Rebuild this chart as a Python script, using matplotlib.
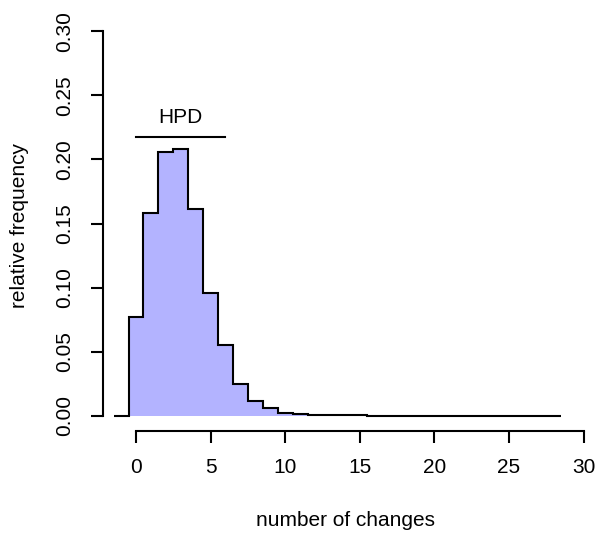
import numpy as np
import matplotlib
matplotlib.use("Agg")
import matplotlib.pyplot as plt

plt.rcParams['font.family'] = ['Liberation Sans', 'DejaVu Sans']

# number of changes (bin centres) and relative frequencies
changes = list(range(-1, 29))
freq = [0.0, 0.0772, 0.158, 0.206, 0.208, 0.161, 0.0955, 0.055, 0.0244, 0.0111,
        0.0063, 0.0022, 0.0012, 0.0008, 0.0005, 0.0004, 0.0003] + [0.0] * 13
hpd_low, hpd_high = 0, 6
hpd_y = 0.2178
xticks = [0, 5, 10, 15, 20, 25, 30]
yticks = [0.00, 0.05, 0.10, 0.15, 0.20, 0.25, 0.30]

W, H = 599, 533
fs = 15
fig = plt.figure(figsize=(W / 100, H / 100), dpi=100)
ax = fig.add_axes([103 / W, (H - 431) / H, (598 - 103) / W, (431 - 16) / H])

edges = np.array(changes + [changes[-1] + 1]) - 0.5
vals = np.array(freq)
ax.stairs(vals, edges, fill=True, color='#B3B3FF', linewidth=0)
ax.stairs(vals, edges, baseline=None, color='black', linewidth=1.5)

ax.plot([hpd_low, hpd_high], [hpd_y, hpd_y], color='black', linewidth=1.5)
ax.text((hpd_low + hpd_high) / 2, 0.233, 'HPD', ha='center', va='center', fontsize=fs)

ax.set_xlim(-2.21, 30.97)
ax.set_ylim(-0.012, 0.312)
for s in ['top', 'right']:
    ax.spines[s].set_visible(False)
ax.spines['left'].set_bounds(0, 0.3)
ax.spines['bottom'].set_bounds(0, 30)
for s in ['left', 'bottom']:
    ax.spines[s].set_linewidth(1.5)
ax.set_xticks(xticks)
ax.set_xticklabels([str(v) for v in xticks])
ax.set_yticks(yticks)
ax.set_yticklabels(['%.2f' % v for v in yticks], rotation=90, va='center')
ax.tick_params(axis='both', direction='out', length=8.6, width=1.5, labelsize=fs)
ax.tick_params(axis='x', pad=10.5)
ax.tick_params(axis='y', pad=12)

fig.text(345 / W, 1 - 521 / H, 'number of changes', ha='center', va='center', fontsize=fs)
fig.text(20 / W, 1 - 225 / H, 'relative frequency', ha='center', va='center', rotation=90, fontsize=fs)

fig.savefig('out.png', dpi=100)
